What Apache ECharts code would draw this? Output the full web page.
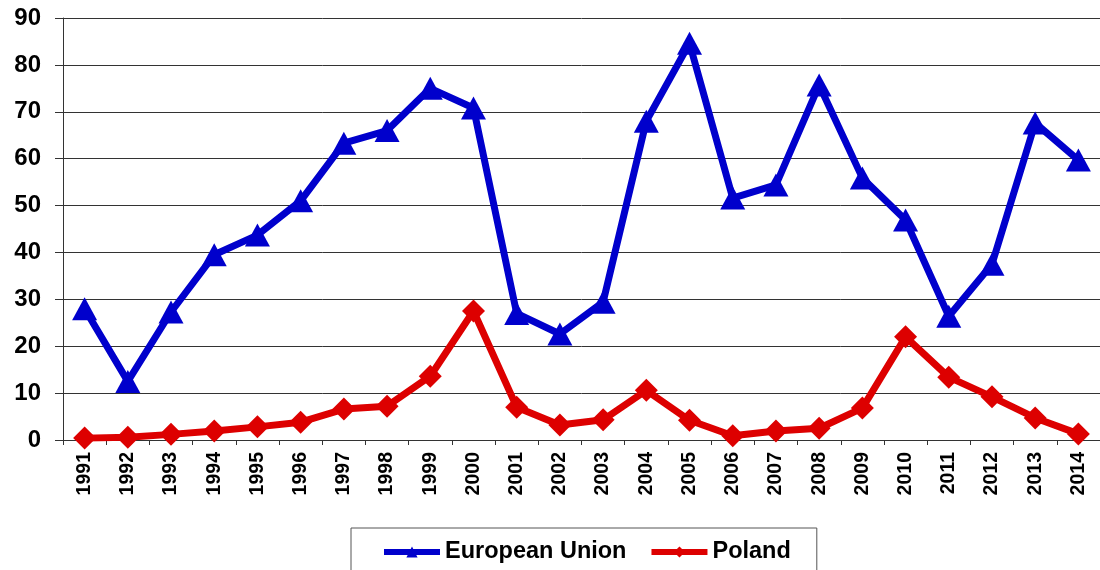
<!DOCTYPE html>
<html><head><meta charset="utf-8">
<script src="https://cdn.jsdelivr.net/npm/echarts@6/dist/echarts.min.js"></script>
<style>html,body{margin:0;padding:0;background:#fff}#c{width:1100px;height:570px}</style>
</head><body><div id="c"></div>
<script>
const years = ['1991','1992','1993','1994','1995','1996','1997','1998','1999','2000','2001','2002','2003','2004','2005','2006','2007','2008','2009','2010','2011','2012','2013','2014'];
const euValues = [28,12.5,27.3,39.5,43.7,51,63.3,66,75,70.8,27,22.6,29.4,68,84.6,51.6,54.4,75.7,55.9,46.9,26.4,37.5,67.6,59.7];
const plValues = [0.4,0.6,1.2,1.9,2.8,3.8,6.6,7.2,13.6,27.5,7,3.2,4.3,10.6,4.2,0.9,1.9,2.5,6.8,22,13.4,9.2,4.7,1.3];
const yTicks = [0,10,20,30,40,50,60,70,80,90];

const chart = echarts.init(document.getElementById('c'));
chart.setOption({
  animation:false,
  grid:{left:63,width:1044,top:18,height:422,containLabel:false},
  legend:{
    top:528,left:351,
    padding:[12,26,30,30],
    borderColor:'#555',borderWidth:1,
    itemWidth:56,itemHeight:14,itemGap:22,
    lineStyle:{width:6},
    textStyle:{fontFamily:'Liberation Sans, Arial',fontWeight:'bold',fontSize:23.5,color:'#000'},
    data:['European Union','Poland']
  },
  xAxis:{
    type:'category',data:years,boundaryGap:true,
    axisLine:{lineStyle:{color:'#333',width:1}},
    axisTick:{show:true,length:5,inside:false,lineStyle:{color:'#333'}},
    axisLabel:{rotate:90,interval:0,fontFamily:'Liberation Sans, Arial',fontWeight:'bold',fontSize:19.5,color:'#000',margin:12}
  },
  yAxis:{
    type:'value',min:0,max:90,interval:10,
    axisLine:{show:true,lineStyle:{color:'#333',width:1}},
    axisTick:{show:true,length:8,lineStyle:{color:'#333'}},
    splitLine:{show:true,lineStyle:{color:'#333',width:1}},
    axisLabel:{fontFamily:'Liberation Sans, Arial',fontWeight:'bold',fontSize:24,color:'#000',margin:22,
      formatter:v=>yTicks.includes(v)?String(v):''}
  },
  series:[
    {name:'European Union',type:'line',data:euValues,symbol:'triangle',symbolSize:[25,23],
     lineStyle:{color:'#0000cc',width:7},itemStyle:{color:'#0000cc'}},
    {name:'Poland',type:'line',data:plValues,symbol:'diamond',symbolSize:[23,23],
     lineStyle:{color:'#dd0000',width:7},itemStyle:{color:'#dd0000'}}
  ]
});
</script></body></html>
